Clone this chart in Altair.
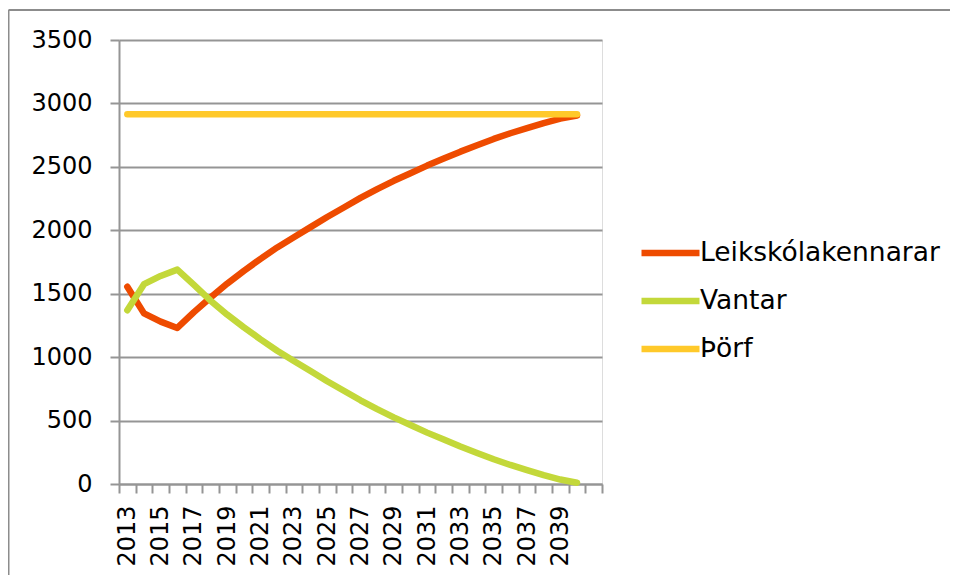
import altair as alt
import pandas as pd

years = [str(y) for y in range(2013, 2041)]
axis_years = years + ["2041"]

leik = [1555, 1345, 1280, 1230, 1355, 1470, 1580, 1680, 1775, 1865, 1945, 2025,
        2105, 2180, 2255, 2325, 2390, 2450, 2510, 2565, 2620, 2670, 2720, 2765,
        2805, 2845, 2880, 2905]
vantar = [1370, 1575, 1640, 1690, 1570, 1445, 1335, 1235, 1140, 1050, 970, 890,
          810, 735, 660, 590, 525, 465, 405, 350, 295, 245, 195, 150, 110, 70,
          35, 10]
thorf = [2915] * 28

series_names = ["Leikskólakennarar", "Vantar", "Þörf"]
series_colors = ["#EE4B00", "#C3D83A", "#FFC92A"]

rows = []
for name, vals in zip(series_names, [leik, vantar, thorf]):
    for y, v in zip(years, vals):
        rows.append({"year": y, "value": v, "series": name})
df = pd.DataFrame(rows)

FONT = "DejaVu Sans"
GRID = "#959595"

lines = alt.Chart(df).mark_line(strokeWidth=6.5, strokeCap="round", strokeJoin="round").encode(
    x=alt.X("year:O", bandPosition=0.5,
            scale=alt.Scale(type="band", domain=axis_years, paddingInner=0, paddingOuter=0),
            axis=alt.Axis(title=None, labelAngle=270, tickBand="extent", grid=False,
                          labelExpr="(toNumber(datum.value) - 2013) % 2 == 0 && datum.value != '2041' ? datum.label : ''",
                          labelFontSize=24, labelFont=FONT, labelColor="#000",
                          labelPadding=12, tickSize=9, tickWidth=2, tickColor=GRID,
                          domainColor=GRID, domainWidth=2)),
    y=alt.Y("value:Q",
            scale=alt.Scale(domain=[0, 3500], nice=False, zero=True),
            axis=alt.Axis(title=None, values=list(range(0, 3501, 500)), grid=True, format="d",
                          gridColor=GRID, gridWidth=2, labelFontSize=24, labelFont=FONT,
                          labelColor="#000", labelPadding=18, tickSize=9, tickWidth=2,
                          tickColor=GRID, domainColor=GRID, domainWidth=2)),
    color=alt.Color("series:N",
                    scale=alt.Scale(domain=series_names, range=series_colors),
                    sort=series_names,
                    legend=alt.Legend(title=None, orient="none", legendX=519, legendY=195,
                                      symbolType="M-1,0H3", symbolSize=841,
                                      symbolStrokeWidth=6.5, labelFontSize=26.5,
                                      labelFont=FONT, labelColor="#000", labelOffset=26,
                                      labelLimit=0, rowPadding=16)),
)

border = alt.Chart(alt.Data(values=[{}])).mark_rule(color="#8c8c8c", strokeWidth=2).encode(
    x=alt.value(-110.5), x2=alt.value(1000), y=alt.value(-30)
)
border_left = alt.Chart(alt.Data(values=[{}])).mark_rule(color="#8c8c8c", strokeWidth=2).encode(
    x=alt.value(-110.5), y=alt.value(-30), y2=alt.value(560)
)

chart = alt.layer(lines, border, border_left).properties(
    width=483, height=444,
    autosize=alt.AutoSizeParams(type="none"),
    padding={"left": 111, "top": 32, "right": 348, "bottom": 91},
).configure_view(stroke=None).configure(background="white")

chart.save("out.html", embed_options={"renderer": "svg", "actions": False})
